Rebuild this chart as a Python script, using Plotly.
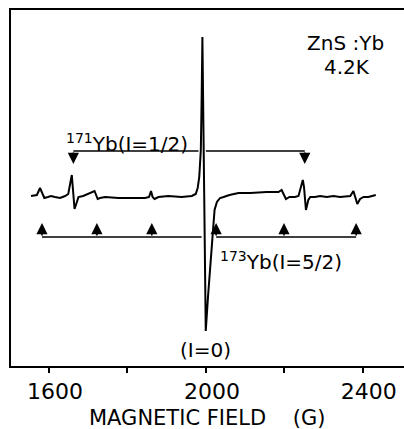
import plotly.graph_objects as go

# EPR trace of ZnS:Yb at 4.2 K: magnetic field (G) and derivative signal (arb. units)
field = [1554, 1569, 1577, 1583, 1588, 1597, 1605, 1615, 1628, 1641, 1649,
         1658, 1662, 1665, 1671, 1675, 1687, 1700, 1716, 1720, 1724, 1730,
         1743, 1777, 1811, 1845, 1855, 1860, 1864, 1869, 1879, 1904, 1938,
         1964, 1974, 1979, 1983, 1985, 1987, 1989, 1991, 1995.6, 1999.5,
         2005.6, 2012, 2018, 2022, 2028, 2036, 2045, 2060, 2083, 2113, 2155,
         2185, 2193, 2198, 2204, 2213, 2227, 2236, 2247, 2250, 2255, 2261,
         2266, 2278, 2291, 2308, 2325, 2342, 2368, 2376, 2380, 2386, 2393,
         2402, 2414, 2427, 2433]
signal = [-1, 0, 7, 1, -3, -2, -1, -2, -3, -1, 1,
          20, 0, -14, -7, -2, -1, 1, 4, 0, -4, -3,
          -2, -3, -3, -3, -2, 4, -2, -4, -2, -1, -2,
          -1, 1, 7, 18, 30, 45, 95, 158, 0, -136,
          -100, -67, -37, -15, -7, -3, -2, 0, 2, 2, 3,
          3, 5, 0, -4, -2, -2, -1, 15, 8, -15, -5,
          -2, -2, -1, -2, -1, -2, -1, 4, -2, -9, -4,
          -2, -2, -1, 0]

# Hyperfine line positions (G)
yb171_lines = [1662, 2252]
yb173_lines = [1582, 1722, 1862, 2026, 2199, 2383]

# Axis ticks
tick_values = [1600, 1800, 2000, 2200, 2400]
tick_labels = ["1600", "", "2000", "", "2400"]
x_title = "MAGNETIC\u00a0FIELD\u00a0\u00a0\u00a0\u00a0(G)"

FONT = "DejaVu Sans"
INK = "black"

# bracket geometry (signal units)
Y171_BAR, Y171_TIP = 44, 31
Y173_BAR, Y173_TIP = -42, -28
GAP171 = (1981, 2000)
GAP173 = (1989, 2026)

fig = go.Figure()
fig.add_trace(go.Scatter(x=field, y=signal, mode="lines",
                         line=dict(color=INK, width=2), hoverinfo="skip"))

shapes = []
annotations = []


def hline(x0, x1, y):
    shapes.append(dict(type="line", xref="x", yref="y", x0=x0, x1=x1, y0=y, y1=y,
                       line=dict(color=INK, width=1.6)))


def arrow(x, base, tip):
    annotations.append(dict(x=x, y=tip, ax=x, ay=base, xref="x", yref="y",
                            axref="x", ayref="y", text="", showarrow=True,
                            arrowhead=2, arrowsize=1.4, arrowwidth=1.6,
                            arrowcolor=INK, standoff=0, startstandoff=0))


# 171Yb doublet bracket (arrows pointing down)
hline(yb171_lines[0], GAP171[0], Y171_BAR)
hline(GAP171[1], yb171_lines[1], Y171_BAR)
for g in yb171_lines:
    arrow(g, Y171_BAR, Y171_TIP)

# 173Yb sextet bracket (arrows pointing up)
hline(yb173_lines[0], GAP173[0], Y173_BAR)
hline(GAP173[1], yb173_lines[-1], Y173_BAR)
for g in yb173_lines:
    arrow(g, Y173_BAR, Y173_TIP)


def label(text, x, y, size, xanchor="center"):
    annotations.append(dict(text=text, x=x, y=y, xref="x", yref="y",
                            showarrow=False, xanchor=xanchor, yanchor="middle",
                            font=dict(family=FONT, size=size, color=INK)))


label("ZnS :Yb", 2356, 152, 20)
label("4.2K", 2360, 128, 20)
label("<sup>171</sup>Yb(I=1/2)", 1960, 52, 20, xanchor="right")
label("<sup>173</sup>Yb(I=5/2)", 2031, -66, 20, xanchor="left")
label("(I=0)", 2000, -155, 20)

# x-axis title placed below the tick labels
annotations.append(dict(text=x_title, x=0.5, y=-0.146, xref="paper", yref="paper",
                        showarrow=False, xanchor="center", yanchor="middle",
                        font=dict(family=FONT, size=21, color=INK)))

fig.update_layout(
    width=404, height=429,
    margin=dict(l=11, r=0, t=10, b=63),
    paper_bgcolor="white", plot_bgcolor="white",
    showlegend=False,
    shapes=shapes, annotations=annotations,
    font=dict(family=FONT, color=INK),
    xaxis=dict(range=[1503, 2505], showgrid=False, zeroline=False, automargin=False,
               showline=True, mirror=True, linecolor=INK, linewidth=2,
               ticks="outside", ticklen=5, tickwidth=1.5, tickcolor=INK,
               tickvals=tick_values, ticktext=tick_labels, ticklabelshift=6,
               tickfont=dict(family=FONT, size=22, color=INK)),
    yaxis=dict(range=[-171, 185], showgrid=False, zeroline=False, automargin=False,
               showline=True, mirror=False, linecolor=INK, linewidth=2,
               showticklabels=False, ticks=""),
)

fig.write_html("out.html")
